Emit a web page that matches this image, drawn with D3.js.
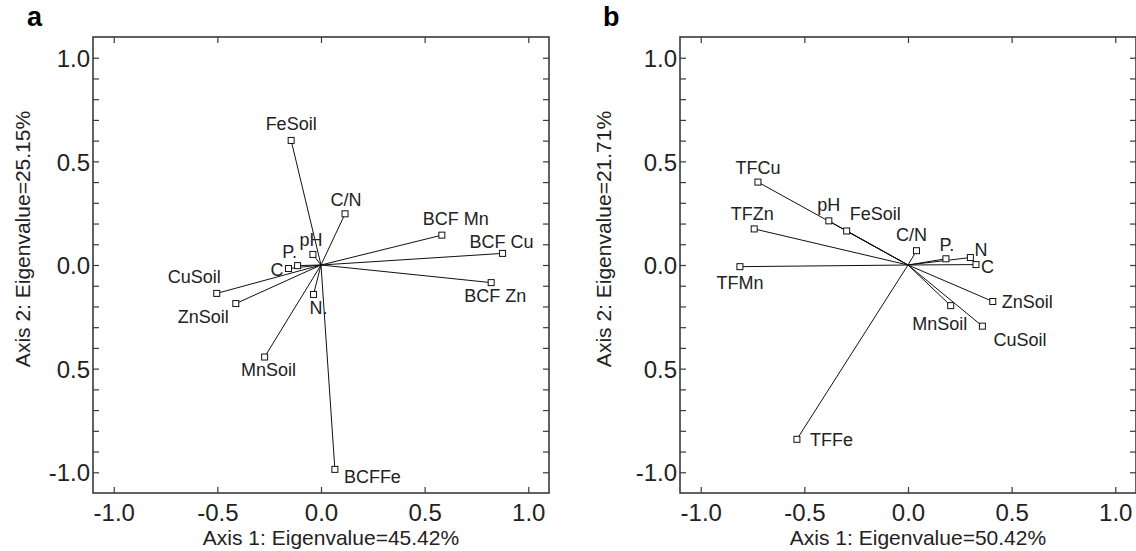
<!DOCTYPE html>
<html>
<head>
<meta charset="utf-8">
<script src="https://cdn.jsdelivr.net/npm/d3@7"></script>
<style>
  html, body { margin: 0; padding: 0; background: #fff; }
  svg { display: block; font-family: "Liberation Sans", Arial, sans-serif; }
</style>
</head>
<body>
<svg id="chart" width="1136" height="551"></svg>
<script>
// ---------- DATA ----------
// Panel a
const namesA = ["FeSoil", "C/N", "BCF Mn", "BCF Cu", "BCF Zn", "pH", "P.", "C", "CuSoil", "ZnSoil", "N.", "MnSoil", "BCFFe"];
const axis1A = [-0.144, 0.116, 0.583, 0.876, 0.821, -0.039, -0.113, -0.157, -0.503, -0.411, -0.036, -0.272, 0.067];
const axis2A = [0.601, 0.247, 0.144, 0.056, -0.085, 0.051, -0.003, -0.017, -0.137, -0.186, -0.142, -0.444, -0.986];
// Panel b
const namesB = ["TFCu", "pH", "FeSoil", "TFZn", "TFMn", "C/N", "P.", "N", "C", "ZnSoil", "MnSoil", "CuSoil", "TFFe"];
const axis1B = [-0.724, -0.382, -0.296, -0.742, -0.811, 0.041, 0.183, 0.301, 0.328, 0.409, 0.206, 0.359, -0.536];
const axis2B = [0.400, 0.213, 0.164, 0.174, -0.008, 0.069, 0.030, 0.036, 0.002, -0.176, -0.196, -0.295, -0.841];

// Axes
const xTickValues = [-1.0, -0.5, 0.0, 0.5, 1.0];
const xTickLabels = ["-1.0", "-0.5", "0.0", "0.5", "1.0"];
const yTickValues = [1.0, 0.5, 0.0, -0.5, -1.0];
const yTickLabels = ["1.0", "0.5", "0.0", "0.5", "-1.0"];
const yMinorTicks = d3.range(-10, 11).map(i => i / 10);
const panelLetters = ["a", "b"];
const xTitles = ["Axis 1: Eigenvalue=45.42%", "Axis 1: Eigenvalue=50.42%"];
const yTitles = ["Axis 2: Eigenvalue=25.15%", "Axis 2: Eigenvalue=21.71%"];

// Label placement (dx, dy in px, text-anchor) — layout only
const placeA = {
  "FeSoil": [0, -10, "middle"], "C/N": [1, -8, "middle"], "BCF Mn": [14, -10, "middle"],
  "BCF Cu": [-1, -5, "middle"], "BCF Zn": [4, 19, "middle"], "pH": [-2, -8, "middle"],
  "P.": [-8, -8, "middle"], "C": [-5, 7, "end"], "CuSoil": [4, -10, "end"],
  "ZnSoil": [-7, 19, "end"], "N.": [5, 20, "middle"], "MnSoil": [4, 19, "middle"],
  "BCFFe": [9, 14, "start"]
};
const placeB = {
  "TFCu": [0, -8, "middle"], "pH": [0, -10, "middle"], "FeSoil": [3, -11, "start"],
  "TFZn": [-2, -9, "middle"], "TFMn": [0, 22, "middle"], "C/N": [-5, -10, "middle"],
  "P.": [1, -8, "middle"], "N": [4, -2, "start"], "C": [5, 8, "start"],
  "ZnSoil": [9, 7, "start"], "MnSoil": [-11, 24, "middle"], "CuSoil": [11, 20, "start"],
  "TFFe": [13, 7, "start"]
};

// ---------- DRAW ----------
const svg = d3.select("#chart");
const frames = [
  { left: 93, top: 37, size: 456, yTitleX: 30, letterX: 27 },
  { left: 680, top: 37, size: 456, yTitleX: 611, letterX: 603 }
];
const panels = [
  { names: namesA, xs: axis1A, ys: axis2A, place: placeA },
  { names: namesB, xs: axis1B, ys: axis2B, place: placeB }
];
const frameColor = "#3a3a3a";

panels.forEach((p, i) => {
  const f = frames[i];
  const x = d3.scaleLinear().domain([-1.1, 1.1]).range([f.left, f.left + f.size]);
  const y = d3.scaleLinear().domain([-1.1, 1.1]).range([f.top + f.size, f.top]);
  const g = svg.append("g");

  // Frame
  g.append("rect")
    .attr("x", x(-1.1)).attr("y", y(1.1))
    .attr("width", x(1.1) - x(-1.1)).attr("height", y(-1.1) - y(1.1))
    .attr("fill", "none").attr("stroke", frameColor).attr("stroke-width", 1.6);

  // Bottom axis (labels) + inward ticks
  const xb = d3.axisBottom(x).tickValues(xTickValues)
    .tickFormat((d, k) => xTickLabels[k]).tickSize(-6).tickPadding(11);
  const gxb = g.append("g").attr("transform", `translate(0,${y(-1.1)})`).call(xb);
  const xt = d3.axisTop(x).tickValues(xTickValues).tickFormat("").tickSize(-6);
  const gxt = g.append("g").attr("transform", `translate(0,${y(1.1)})`).call(xt);

  // Left axis with minor ticks, labels at majors
  const yl = d3.axisLeft(y).tickValues(yMinorTicks).tickFormat("").tickSize(-6);
  const gyl = g.append("g").attr("transform", `translate(${x(-1.1)},0)`).call(yl);
  const ylab = d3.axisLeft(y).tickValues(yTickValues)
    .tickFormat((d, k) => yTickLabels[k]).tickSize(0).tickPadding(3);
  const gylab = g.append("g").attr("transform", `translate(${x(-1.1)},0)`).call(ylab);
  const yr = d3.axisRight(y).tickValues(yMinorTicks).tickFormat("").tickSize(-6);
  const gyr = g.append("g").attr("transform", `translate(${x(1.1)},0)`).call(yr);

  [gxb, gxt, gyl, gylab, gyr].forEach(ax => {
    ax.select(".domain").remove();
    ax.selectAll(".tick line").attr("stroke", frameColor).attr("stroke-width", 1.2);
    ax.selectAll(".tick text").attr("fill", "#222")
      .style("font-size", "24px").style("font-family", "'Liberation Sans', Arial, sans-serif");
  });
  gylab.selectAll(".tick text").attr("dy", "0.36em");

  // Axis titles
  g.append("text")
    .attr("x", x(0) + 10).attr("y", 545)
    .attr("text-anchor", "middle").attr("fill", "#222")
    .style("font-size", "21px")
    .text(xTitles[i]);
  g.append("text")
    .attr("transform", `translate(${f.yTitleX},239) rotate(-90)`)
    .attr("text-anchor", "middle").attr("fill", "#222")
    .style("font-size", "21px")
    .text(yTitles[i]);

  // Panel letter
  g.append("text")
    .attr("x", f.letterX).attr("y", 26)
    .attr("fill", "#000").style("font-size", "27px").style("font-weight", "bold")
    .text(panelLetters[i]);

  // Vectors
  const pts = p.names.map((n, k) => ({ name: n, v1: p.xs[k], v2: p.ys[k] }));
  g.selectAll("line.vec").data(pts).enter().append("line")
    .attr("class", "vec")
    .attr("x1", x(0)).attr("y1", y(0))
    .attr("x2", d => x(d.v1)).attr("y2", d => y(d.v2))
    .attr("stroke", "#111").attr("stroke-width", 1);

  g.selectAll("rect.pt").data(pts).enter().append("rect")
    .attr("class", "pt")
    .attr("x", d => x(d.v1) - 3).attr("y", d => y(d.v2) - 3)
    .attr("width", 6).attr("height", 6)
    .attr("fill", "#fff").attr("stroke", "#111").attr("stroke-width", 1);

  g.selectAll("text.lab").data(pts).enter().append("text")
    .attr("class", "lab")
    .attr("x", d => x(d.v1) + p.place[d.name][0])
    .attr("y", d => y(d.v2) + p.place[d.name][1])
    .attr("text-anchor", d => p.place[d.name][2])
    .attr("fill", "#222")
    .style("font-size", "18px")
    .text(d => d.name);
});
</script>
</body>
</html>
